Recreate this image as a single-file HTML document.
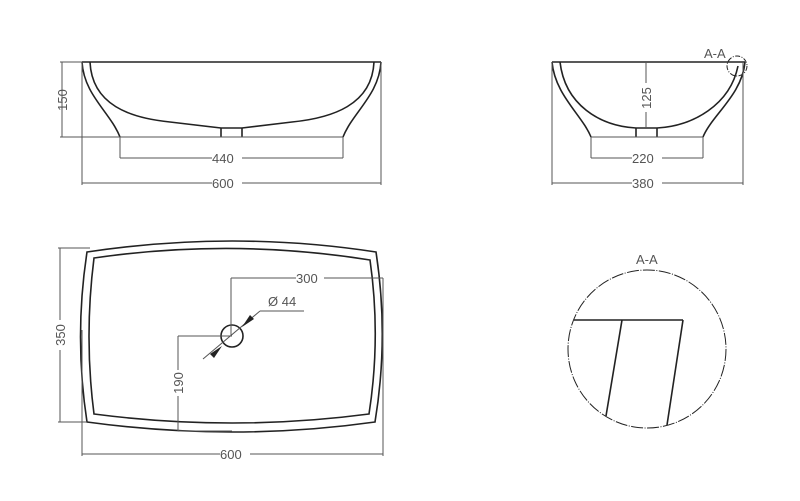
<!DOCTYPE html>
<html><head><meta charset="utf-8"><style>
html,body{margin:0;padding:0;background:#fff;}
svg{display:block;}
text{font-family:"Liberation Sans",sans-serif;font-size:13px;fill:#555;}
</style></head><body>
<svg width="800" height="501" viewBox="0 0 800 501" xmlns="http://www.w3.org/2000/svg">
<g fill="none" stroke="#222" stroke-width="1.6">
<line x1="82" y1="62" x2="381" y2="62"/>
<path d="M82,62 C84,95 110,112 120,137"/>
<path d="M90,62 C92,105 130,118 170,122 L221,128 L242,128 L292,122 C332,118 372,105 374,62"/>
<path d="M381,62 C379,95 353,112 343,137"/>
<line x1="221" y1="128" x2="221" y2="137"/>
<line x1="242" y1="128" x2="242" y2="137"/>
<line x1="552" y1="62" x2="745" y2="62"/>
<path d="M552,62 C555,95 582,115 591,137"/>
<path d="M560,62 C565,105 600,126 636,128 L657,128 C693,126 730,105 738,66"/>
<path d="M745,62 C742,95 712,115 703,137"/>
<line x1="636" y1="128" x2="636" y2="137"/>
<line x1="657" y1="128" x2="657" y2="137"/>
<path d="M87,252 Q233,230 376,252 Q389,337 375,422 Q233,442 87,422 Q74,337 87,252 Z"/>
<path d="M94,258 Q233,238 370,260 Q381,337 369,414 Q233,432 94,414 Q84,337 94,258 Z"/>
<circle cx="232" cy="336" r="11"/>
<line x1="574" y1="320" x2="683" y2="320"/>
<line x1="622" y1="320" x2="606" y2="416"/>
<line x1="683" y1="320" x2="667" y2="425"/>
</g>
<g fill="none" stroke="#222" stroke-width="1" stroke-dasharray="12,1.5,1,1.5">
<circle cx="647" cy="349" r="79"/>
</g>
<circle cx="737" cy="66" r="10" fill="none" stroke="#222" stroke-width="1" stroke-dasharray="5,1.5,1,1.5"/>
<g fill="none" stroke="#555" stroke-width="1">
<line x1="120" y1="137" x2="343" y2="137"/>
<line x1="591" y1="137" x2="703" y2="137"/>
<line x1="60" y1="62" x2="82" y2="62"/><line x1="60" y1="137" x2="120" y2="137"/>
<line x1="62" y1="62" x2="62" y2="137"/>
<line x1="120" y1="137" x2="120" y2="158"/><line x1="343" y1="137" x2="343" y2="158"/>
<line x1="120" y1="158" x2="212" y2="158"/><line x1="242" y1="158" x2="343" y2="158"/>
<line x1="82" y1="62" x2="82" y2="185"/><line x1="381" y1="62" x2="381" y2="185"/>
<line x1="82" y1="183" x2="212" y2="183"/><line x1="242" y1="183" x2="381" y2="183"/>
<line x1="646" y1="62" x2="646" y2="83"/><line x1="646" y1="112" x2="646" y2="128"/>
<line x1="591" y1="137" x2="591" y2="158"/><line x1="703" y1="137" x2="703" y2="158"/>
<line x1="591" y1="158" x2="632" y2="158"/><line x1="662" y1="158" x2="703" y2="158"/>
<line x1="552" y1="62" x2="552" y2="185"/><line x1="743" y1="62" x2="743" y2="185"/>
<line x1="552" y1="183" x2="632" y2="183"/><line x1="662" y1="183" x2="743" y2="183"/>
<line x1="58" y1="248" x2="90" y2="248"/><line x1="58" y1="422" x2="87" y2="422"/>
<line x1="60" y1="248" x2="60" y2="320"/><line x1="60" y1="350" x2="60" y2="422"/>
<line x1="82" y1="330" x2="82" y2="456"/><line x1="383" y1="278" x2="383" y2="456"/>
<line x1="82" y1="454" x2="220" y2="454"/><line x1="250" y1="454" x2="383" y2="454"/>
<line x1="231" y1="278" x2="296" y2="278"/><line x1="324" y1="278" x2="383" y2="278"/>
<line x1="231" y1="278" x2="231" y2="335"/>
<line x1="178" y1="336" x2="232" y2="336"/>
<line x1="178" y1="336" x2="178" y2="370"/><line x1="178" y1="396" x2="178" y2="431"/>
<line x1="178" y1="431" x2="232" y2="431"/>
<line x1="203" y1="359" x2="260" y2="311"/><line x1="260" y1="311" x2="304" y2="311"/>
</g>
<g fill="#222">
<polygon points="222,346 210,354 214,358"/>
<polygon points="242,327 254,319 250,315"/>
</g>
<text x="212" y="163">440</text>
<text x="212" y="188">600</text>
<text x="632" y="163">220</text>
<text x="632" y="188">380</text>
<text x="296" y="283">300</text>
<text x="268" y="306" fill="#333">Ø 44</text>
<text x="220" y="459">600</text>
<text x="704" y="58" fill="#333" font-size="14">A-A</text>
<text x="636" y="264" fill="#333" font-size="14">A-A</text>
<text transform="translate(67,100) rotate(-90)" text-anchor="middle">150</text>
<text transform="translate(651,98) rotate(-90)" text-anchor="middle">125</text>
<text transform="translate(65,335) rotate(-90)" text-anchor="middle">350</text>
<text transform="translate(183,383) rotate(-90)" text-anchor="middle">190</text>
</svg>
</body></html>
